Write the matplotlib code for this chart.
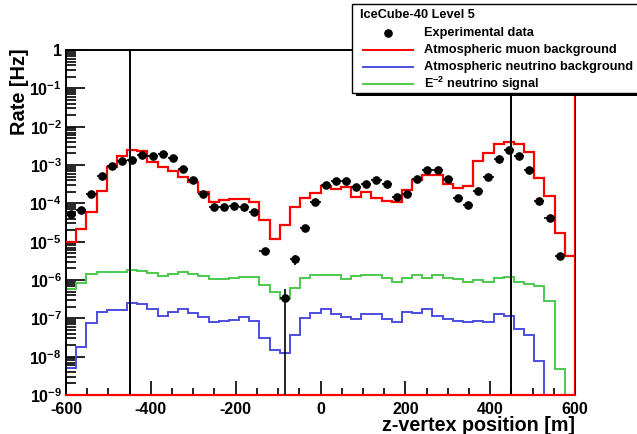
import numpy as np
import matplotlib
matplotlib.use('Agg')
import matplotlib.pyplot as plt
from matplotlib.patches import Rectangle
from matplotlib.lines import Line2D
from matplotlib.transforms import Affine2D
from matplotlib.ticker import FixedLocator, MultipleLocator, NullFormatter, LogLocator

plt.rcParams['font.family'] = 'Liberation Sans'
plt.rcParams['font.weight'] = 'bold'
plt.rcParams['axes.unicode_minus'] = False
plt.rcParams['mathtext.fontset'] = 'custom'
plt.rcParams['mathtext.rm'] = 'Liberation Sans:bold'
plt.rcParams['mathtext.it'] = 'Liberation Sans:bold'
plt.rcParams['mathtext.bf'] = 'Liberation Sans:bold'
plt.rcParams['mathtext.sf'] = 'Liberation Sans:bold'

############ DATA (rate per z-vertex bin, 50 bins of 24 m) ############

bin_edges = np.arange(-600, 601, 24)

# experimental data (nan = empty bin)
data_rate = [5.4e-5, 6.6e-5, 1.8e-4, 5.2e-4, 9.5e-4, 1.26e-3, 1.35e-3, 1.8e-3, 1.7e-3, 1.9e-3,
             1.5e-3, 7.9e-4, 4.0e-4, 1.7e-4, 8.1e-5, 8.1e-5, 8.5e-5, 8.1e-5, 5.8e-5, 5.6e-6,
             np.nan, 3.3e-7, 3.5e-6, 2.3e-5, 1.07e-4, 3.0e-4, 3.9e-4, 3.9e-4, 2.6e-4, 3.2e-4,
             4.0e-4, 3.1e-4, 1.45e-4, 1.74e-4, 4.4e-4, 7.2e-4, 7.6e-4, 4.2e-4, 1.4e-4, 9.3e-5,
             2.1e-4, 5.0e-4, 1.45e-3, 2.45e-3, 1.7e-3, 7.4e-4, 1.15e-4, 4.1e-5, 4.3e-6, np.nan]
# vertical errors (only visible for the low bins)
data_err_lo = [0]*50
data_err_hi = [0]*50
data_err_lo[19], data_err_hi[19] = 1.0e-6, 1.0e-6
data_err_lo[21], data_err_hi[21] = 3.3e-7, 2.7e-7
data_err_lo[22], data_err_hi[22] = 1.1e-6, 1.1e-6
data_err_lo[23], data_err_hi[23] = 3.0e-6, 3.0e-6
data_err_lo[48], data_err_hi[48] = 9.0e-7, 9.0e-7

# atmospheric muon background
muon_rate = [1.0e-5, 2.1e-5, 5.8e-5, 2.1e-4, 8.7e-4, 1.7e-3, 2.4e-3, 2.3e-3, 1.2e-3, 9.1e-4,
             6.8e-4, 5.0e-4, 3.5e-4, 2.0e-4, 1.1e-4, 1.2e-4, 1.26e-4, 1.26e-4, 1.07e-4, 3.7e-5,
             1.17e-5, 2.8e-5, 7.9e-5, 1.35e-4, 1.9e-4, 2.75e-4, 2.3e-4, 2.6e-4, 1.5e-4, 2.0e-4,
             1.35e-4, 1.17e-4, 1.07e-4, 2.2e-4, 4.0e-4, 5.5e-4, 5.5e-4, 3.1e-4, 2.5e-4, 2.75e-4,
             1.3e-3, 2.0e-3, 3.5e-3, 4.0e-3, 3.6e-3, 2.2e-3, 4.7e-4, 1.6e-4, 1.7e-5, 4.3e-6]

# atmospheric neutrino background
nu_rate = [5.2e-9, 1.74e-8, 7.4e-8, 1.45e-7, 1.66e-7, 1.66e-7, 2.57e-7, 2.34e-7, 1.74e-7, 1.15e-7,
           1.45e-7, 1.78e-7, 1.35e-7, 1.1e-7, 8.1e-8, 8.5e-8, 9.1e-8, 1.1e-7, 8.7e-8, 3.0e-8,
           1.48e-8, 1.26e-8, 3.6e-8, 1.0e-7, 1.38e-7, 1.74e-7, 1.26e-7, 1.1e-7, 9.5e-8, 1.32e-7,
           1.32e-7, 9.5e-8, 7.8e-8, 1.45e-7, 1.38e-7, 1.74e-7, 1.17e-7, 9.5e-8, 8.5e-8, 7.9e-8,
           8.5e-8, 7.9e-8, 1.26e-7, 1.15e-7, 5.2e-8, 3.6e-8, 7.8e-9, 0, 0, 0]

# E^-2 neutrino signal
sig_rate = [5.75e-7, 8.5e-7, 1.45e-6, 1.62e-6, 1.58e-6, 1.62e-6, 1.82e-6, 1.74e-6, 1.48e-6, 1.29e-6,
            1.45e-6, 1.66e-6, 1.45e-6, 1.29e-6, 1.07e-6, 1.07e-6, 1.12e-6, 1.2e-6, 1.23e-6, 7.2e-7,
            4.9e-7, 3.2e-7, 6.3e-7, 1.1e-6, 1.32e-6, 1.38e-6, 1.32e-6, 1.05e-6, 1.26e-6, 1.32e-6,
            1.32e-6, 1.1e-6, 9.1e-7, 1.12e-6, 1.32e-6, 1.1e-6, 1.38e-6, 1.15e-6, 1.05e-6, 9.1e-7,
            1.0e-6, 8.7e-7, 1.12e-6, 1.2e-6, 8.9e-7, 8.1e-7, 6.8e-7, 2.9e-7, 4.7e-9, 0]

cut_lines = [-450, 450]
ytick_labels = ['$10^{-9}$', '$10^{-8}$', '$10^{-7}$', '$10^{-6}$', '$10^{-5}$',
                '$10^{-4}$', '$10^{-3}$', '$10^{-2}$', '$10^{-1}$', '1']

############ PLOT ############

fig = plt.figure(figsize=(6.37, 4.34), dpi=100)
ax = fig.add_axes([66/637, 1-395/434, 509/637, 345/434])

centers = (bin_edges[:-1] + bin_edges[1:]) / 2
floor = 1e-12  # empty bins drawn down to the bottom

ax.stairs(np.where(np.array(sig_rate) > 0, sig_rate, floor), bin_edges, baseline=None,
          color='#4cc94c', lw=1.4, zorder=2)
ax.stairs(np.where(np.array(nu_rate) > 0, nu_rate, floor), bin_edges, baseline=None,
          color='#4d4de0', lw=1.4, zorder=2)
ax.stairs(muon_rate, bin_edges, baseline=None, color='#ff0000', lw=1.6, zorder=3)
ax.axvline(600, color='#ff0000', lw=1.6, zorder=3)
ax.axhline(1e-9, color='#ff0000', lw=1.6, zorder=5, clip_on=False)

for xc in cut_lines:
    ax.axvline(xc, color='black', lw=1.4, zorder=4)

ax.errorbar(centers, data_rate, xerr=12, yerr=[data_err_lo, data_err_hi], fmt='o',
            color='black', ms=5.2, elinewidth=1.2, capsize=0, zorder=6)

ax.set_yscale('log')
ax.set_xlim(-600, 600)
ax.set_ylim(1e-9, 1)

ax.yaxis.set_major_locator(FixedLocator(10.0 ** np.arange(-9, 1)))
ax.set_yticklabels(ytick_labels)
ax.yaxis.set_minor_locator(LogLocator(base=10, subs=np.arange(2, 10), numticks=20))
ax.yaxis.set_minor_formatter(NullFormatter())
ax.xaxis.set_major_locator(MultipleLocator(200))
ax.xaxis.set_minor_locator(MultipleLocator(50))

ax.tick_params(axis='both', which='both', direction='in', top=False, right=False,
               labelsize=11.5, width=1.2)
ax.tick_params(axis='y', which='major', length=14, pad=3)
ax.tick_params(axis='y', which='minor', length=7)
ax.tick_params(axis='x', which='major', length=10, pad=5)
ax.tick_params(axis='x', which='minor', length=5)
for s in ax.spines.values():
    s.set_linewidth(1.4)

ax.set_xlabel('z-vertex position [m]', fontsize=14.2, fontweight='bold', loc='right')
ax.xaxis.set_label_coords(1.0, -0.062)
ax.set_ylabel('Rate [Hz]', fontsize=14.4, fontweight='bold', loc='top')
ax.yaxis.set_label_coords(-0.073, 1.006)

############ LEGEND (drawn in pixel coordinates) ############

px = Affine2D().scale(1/637, -1/434).translate(0, 1) + fig.transFigure
fig.add_artist(Rectangle((356, 7), 290, 89, transform=px, facecolor='black', edgecolor='none'))
fig.add_artist(Rectangle((352, 4), 290, 89, transform=px, facecolor='white',
                         edgecolor='black', lw=1))
fig.text(360, 15.5, 'IceCube-40 Level 5', transform=px, fontsize=9.2, va='center')
fig.add_artist(Line2D([388], [33], transform=px, marker='o', color='black', ms=5.2))
fig.text(424, 33, 'Experimental data', transform=px, fontsize=9.2, va='center')
legend_rows = [('#ff0000', 50, 'Atmospheric muon background'),
               ('#4d4de0', 67, 'Atmospheric neutrino background'),
               ('#4cc94c', 84, '$\\mathregular{E^{-2}}$ neutrino signal')]
for col, yy, label in legend_rows:
    fig.add_artist(Line2D([363, 413], [yy, yy], transform=px, color=col, lw=1.4))
    fig.text(424, yy, label, transform=px, fontsize=9.2, va='center')

fig.savefig('out.png', dpi=100)
